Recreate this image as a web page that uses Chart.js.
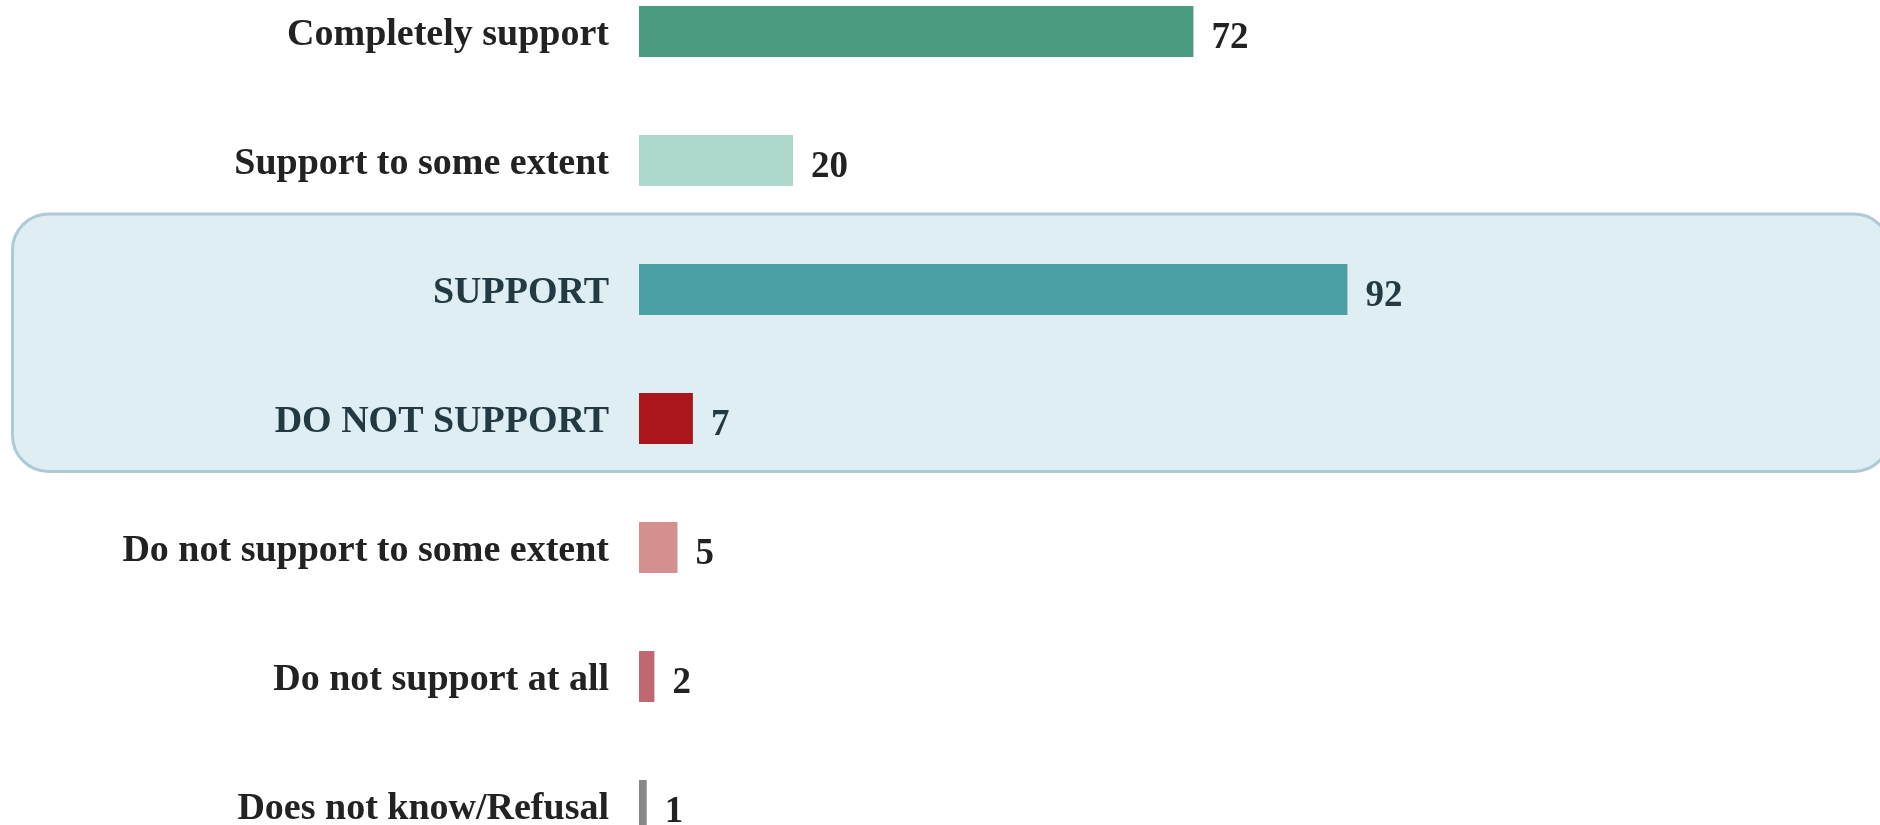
<!DOCTYPE html>
<html>
<head>
<meta charset="utf-8">
<script src="https://cdn.jsdelivr.net/npm/chart.js@4/dist/chart.umd.min.js"></script>
<style>
  html, body { margin: 0; padding: 0; background: #ffffff; overflow: hidden; width: 1880px; height: 825px; }
  #wrap { position: absolute; left: 0; top: -33px; width: 1880px; height: 903px; }
</style>
</head>
<body>
<div id="wrap"><canvas id="chart"></canvas></div>
<script>
const categories = [
  "Completely support",
  "Support to some extent",
  "SUPPORT",
  "DO NOT SUPPORT",
  "Do not support to some extent",
  "Do not support at all",
  "Does not know/Refusal"
];
const values = [72, 20, 92, 7, 5, 2, 1];
const barColors = ["#4a9b80", "#aed8cc", "#4aa0a2", "#ab161c", "#d4908e", "#bf6870", "#888888"];
const highlighted = ["SUPPORT", "DO NOT SUPPORT"];

const FONT = "'Liberation Serif', 'Times New Roman', serif";
const DARK = "#222222";
const SLATE = "#233a42";

const highlightBox = {
  id: "highlightBox",
  beforeDraw(chart) {
    const y = chart.scales.y;
    const band = y.getPixelForValue(1) - y.getPixelForValue(0);
    const i0 = categories.indexOf(highlighted[0]);
    const i1 = categories.indexOf(highlighted[1]);
    const top = y.getPixelForValue(i0) - 0.585 * band;
    const bottom = y.getPixelForValue(i1) + 0.41 * band;
    const ctx = chart.ctx;
    ctx.save();
    ctx.beginPath();
    ctx.roundRect(12.5, top, 1890 - 12.5, bottom - top, 36);
    ctx.fillStyle = "#dfeef3";
    ctx.fill();
    ctx.lineWidth = 3;
    ctx.strokeStyle = "#aecad6";
    ctx.stroke();
    ctx.restore();
  }
};

const valueLabels = {
  id: "valueLabels",
  afterDatasetsDraw(chart) {
    const ctx = chart.ctx;
    const meta = chart.getDatasetMeta(0);
    ctx.save();
    ctx.font = "bold 37px " + FONT;
    ctx.textAlign = "left";
    ctx.textBaseline = "alphabetic";
    meta.data.forEach((bar, i) => {
      ctx.fillStyle = highlighted.includes(categories[i]) ? SLATE : DARK;
      ctx.fillText(String(values[i]), bar.x + 18, bar.y + 16);
    });
    ctx.restore();
  }
};

new Chart(document.getElementById("chart"), {
  type: "bar",
  data: {
    labels: categories,
    datasets: [{
      data: values,
      backgroundColor: barColors,
      borderWidth: 0,
      barPercentage: 0.395,
      categoryPercentage: 1.0
    }]
  },
  options: {
    indexAxis: "y",
    responsive: true,
    maintainAspectRatio: false,
    animation: false,
    layout: { padding: { left: 0, right: 86, top: 0, bottom: 0 } },
    plugins: {
      legend: { display: false },
      tooltip: { enabled: false },
      title: { display: false }
    },
    scales: {
      x: {
        display: false,
        min: 0,
        max: 150
      },
      y: {
        offset: true,
        grid: { display: false, drawTicks: false },
        border: { display: false },
        afterFit(scale) {
          scale.width = 639;
          scale.paddingTop = 0;
          scale.paddingBottom = 0;
        },
        ticks: {
          padding: 30,
          labelOffset: 4,
          font: { family: FONT, size: 38, weight: "bold" },
          color: (c) => highlighted.includes(categories[c.index]) ? SLATE : DARK
        }
      }
    }
  },
  plugins: [highlightBox, valueLabels]
});
</script>
</body>
</html>
